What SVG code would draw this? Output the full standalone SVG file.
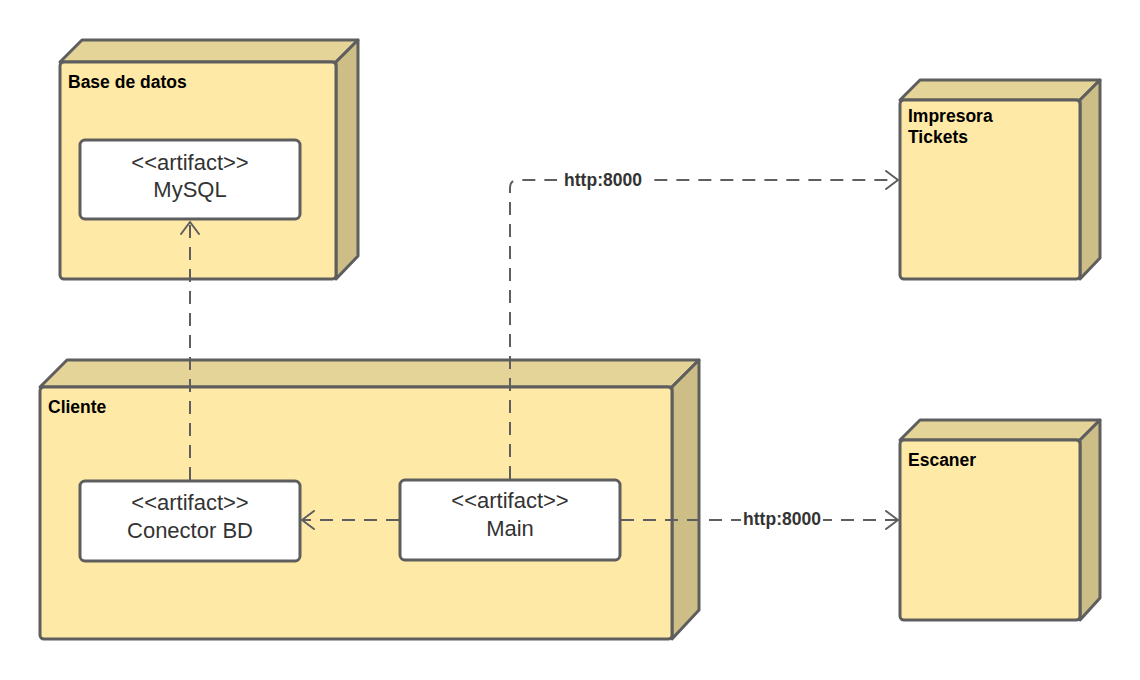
<svg xmlns="http://www.w3.org/2000/svg" width="1140" height="680" viewBox="0 0 1140 680">
  <style>
    .front { fill: #ffe9a6; stroke: #5e5e5e; stroke-width: 3; stroke-linejoin: round; }
    .top { fill: #e5d498; stroke: #5e5e5e; stroke-width: 3; stroke-linejoin: round; }
    .side { fill: #cdbd86; stroke: #5e5e5e; stroke-width: 3; stroke-linejoin: round; }
    .artifact { fill: #ffffff; stroke: #5e5e5e; stroke-width: 3; }
    .title { font-family: "Liberation Sans", Arial, sans-serif; font-size: 17.5px; font-weight: bold; fill: #000000; }
    .art { font-family: "Liberation Sans", Arial, sans-serif; font-size: 22px; fill: #333333; text-anchor: middle; }
    .edge { fill: none; stroke: #5e5e5e; stroke-width: 2; stroke-dasharray: 13 9; }
    .lbl { font-family: "Liberation Sans", Arial, sans-serif; font-size: 17.5px; font-weight: bold; fill: #333333; text-anchor: middle; }
  </style>
  <defs>
    <marker id="open" viewBox="0 0 14 20" refX="13" refY="10" markerWidth="14" markerHeight="20" markerUnits="userSpaceOnUse" orient="auto">
      <path d="M1,1 L13,10 L1,19" fill="none" stroke="#5e5e5e" stroke-width="2" stroke-linecap="round" stroke-linejoin="round"/>
    </marker>
  </defs>

  <!-- Base de datos -->
  <g id="node-base-datos">
    <polygon class="top" points="60,62 82,40 358,40 336,62"/>
    <polygon class="side" points="336,62 358,40 358,256 336,279"/>
    <rect class="front" x="60" y="62" width="276" height="217" rx="4"/>
    <text class="title" x="68" y="88">Base de datos</text>
    <g id="artifact-mysql">
      <rect class="artifact" x="80" y="140" width="220" height="79" rx="5"/>
      <text class="art" x="190" y="170">&lt;&lt;artifact&gt;&gt;</text>
      <text class="art" x="190" y="197">MySQL</text>
    </g>
  </g>

  <!-- Impresora Tickets -->
  <g id="node-impresora">
    <polygon class="top" points="900,100 920,80 1100,80 1080,100"/>
    <polygon class="side" points="1080,100 1100,80 1100,258 1080,279"/>
    <rect class="front" x="900" y="100" width="180" height="179" rx="4"/>
    <text class="title" x="908" y="122">Impresora</text>
    <text class="title" x="908" y="143">Tickets</text>
  </g>

  <!-- Escaner -->
  <g id="node-escaner">
    <polygon class="top" points="900,440 920,420 1100,420 1080,440"/>
    <polygon class="side" points="1080,440 1100,420 1100,598 1080,620"/>
    <rect class="front" x="900" y="440" width="180" height="180" rx="4"/>
    <text class="title" x="908" y="466">Escaner</text>
  </g>

  <!-- Cliente -->
  <g id="node-cliente">
    <polygon class="top" points="40,387 67,360 699,360 672,387"/>
    <polygon class="side" points="672,387 699,360 699,610 672,639"/>
    <rect class="front" x="40" y="387" width="632" height="252" rx="4"/>
    <text class="title" x="48" y="413">Cliente</text>
    <g id="artifact-conector">
      <rect class="artifact" x="80" y="481" width="220" height="80" rx="5"/>
      <text class="art" x="190" y="510">&lt;&lt;artifact&gt;&gt;</text>
      <text class="art" x="190" y="538">Conector BD</text>
    </g>
    <g id="artifact-main">
      <rect class="artifact" x="400" y="480" width="220" height="80" rx="5"/>
      <text class="art" x="510" y="508">&lt;&lt;artifact&gt;&gt;</text>
      <text class="art" x="510" y="536">Main</text>
    </g>
  </g>

  <!-- Connectors -->
  <g id="connectors">
    <path class="edge" d="M190,480 L190,222" marker-end="url(#open)"/>
    <path class="edge" d="M399,520 L302,520" marker-end="url(#open)"/>
    <path class="edge" d="M510,479 L510,188 Q510,180 518,180 L898,180" marker-end="url(#open)"/>
    <rect x="557" y="168" width="91" height="22" fill="#ffffff"/>
    <text class="lbl" x="603" y="186">http:8000</text>
    <path class="edge" d="M621,520 L898,520" marker-end="url(#open)"/>
    <rect x="741" y="508" width="82" height="22" fill="#ffffff"/>
    <text class="lbl" x="782" y="525">http:8000</text>
  </g>
</svg>
